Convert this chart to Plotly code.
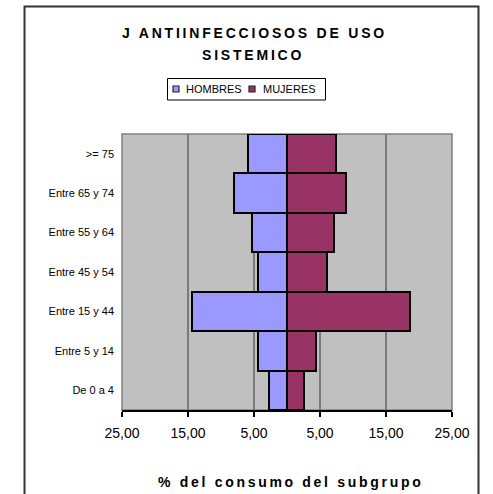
import plotly.graph_objects as go

categories = ["De 0 a 4", "Entre 5 y 14", "Entre 15 y 44", "Entre 45 y 54",
              "Entre 55 y 64", "Entre 65 y 74", ">= 75"]
hombres = [2.8, 4.4, 14.4, 4.4, 5.3, 8.0, 5.9]
mujeres = [2.6, 4.4, 18.7, 6.0, 7.1, 9.0, 7.4]
tick_vals = [-25, -15, -5, 5, 15, 25]
tick_text = ["25,00", "15,00", "5,00", "5,00", "15,00", "25,00"]
series_names = ["HOMBRES", "MUJERES"]

C_H = "#9999FF"
C_M = "#993366"
FONT = "Liberation Sans, Arial, sans-serif"

W, H = 493, 494
L, R, T, B = 122, 41, 134, 84
PW, PH = W - L - R, H - T - B


def xp(px):
    return (px - L) / PW


def yp(py):
    return (H - B - py) / PH


def spaced(s, sp):
    return '<span style="letter-spacing:%spx">%s</span>' % (sp, s)


fig = go.Figure()
fig.add_trace(go.Bar(y=categories, x=[-v for v in hombres], orientation="h",
                     name=series_names[0], showlegend=False,
                     marker=dict(color=C_H, line=dict(color="black", width=2))))
fig.add_trace(go.Bar(y=categories, x=mujeres, orientation="h",
                     name=series_names[1], showlegend=False,
                     marker=dict(color=C_M, line=dict(color="black", width=2))))

# legend box (drawn manually to match the compact original)
legend_shapes = [
    dict(type="rect", xref="paper", yref="paper",
         x0=xp(167.5), x1=xp(325.5), y0=yp(100), y1=yp(78.5),
         line=dict(color="black", width=1), fillcolor="white"),
]
legend_annots = []
for color, name, sx, tx in [(C_H, series_names[0], 173, 183.5),
                            (C_M, series_names[1], 249, 261)]:
    legend_shapes.append(dict(type="rect", xref="paper", yref="paper",
                              x0=xp(sx), x1=xp(sx + 6), y0=yp(92), y1=yp(86),
                              line=dict(color="#222", width=1.2), fillcolor=color))
    legend_annots.append(dict(text=name, xref="paper", yref="paper",
                              x=xp(tx), y=yp(89), xanchor="left", yanchor="middle",
                              showarrow=False, font=dict(size=11, family=FONT)))

fig.update_layout(
    width=W, height=H,
    margin=dict(l=L, r=R, t=T, b=B, autoexpand=False),
    paper_bgcolor="white",
    plot_bgcolor="#C0C0C0",
    barmode="relative",
    bargap=0,
    font=dict(family=FONT, color="black"),
    showlegend=False,
    xaxis=dict(range=[-25, 25], tickvals=tick_vals, ticktext=tick_text,
               showgrid=True, gridcolor="#7a7a7a", gridwidth=1.5,
               zeroline=False, showline=True, linecolor="black", linewidth=1.5,
               ticks="outside", ticklen=5, tickcolor="black", tickwidth=1.5,
               ticklabelstandoff=4,
               tickfont=dict(size=14, family=FONT), fixedrange=True),
    yaxis=dict(type="category", categoryorder="array", categoryarray=categories,
               showgrid=False, zeroline=False, showline=False, ticks="",
               ticklabelstandoff=7,
               tickfont=dict(size=11, family=FONT), fixedrange=True),
    shapes=[
        dict(type="rect", xref="paper", yref="paper", x0=0, x1=1, y0=0, y1=1,
             line=dict(color="#808080", width=1.5), layer="below"),
        dict(type="rect", xref="paper", yref="paper",
             x0=xp(24.5), x1=xp(478.5), y0=yp(505), y1=yp(6.5),
             line=dict(color="#333333", width=2), fillcolor="rgba(0,0,0,0)"),
    ] + legend_shapes,
    annotations=[
        dict(text="<b>" + spaced("J ANTIINFECCIOSOS DE USO", 2.8) + "</b>",
             xref="paper", yref="paper", x=xp(254), y=yp(33),
             xanchor="center", yanchor="middle", showarrow=False,
             font=dict(size=14, family=FONT)),
        dict(text="<b>" + spaced("SISTEMICO", 2.8) + "</b>",
             xref="paper", yref="paper", x=xp(253), y=yp(55),
             xanchor="center", yanchor="middle", showarrow=False,
             font=dict(size=14, family=FONT)),
        dict(text="<b>" + spaced("% del consumo del subgrupo", 2.7) + "</b>",
             xref="paper", yref="paper", x=xp(290), y=yp(482),
             xanchor="center", yanchor="middle", showarrow=False,
             font=dict(size=14, family=FONT)),
    ] + legend_annots,
)

fig.write_html("out.html",
               config={"displayModeBar": False},
               post_script="document.body.style.margin='0';"
                           "document.body.style.overflow='hidden';")
